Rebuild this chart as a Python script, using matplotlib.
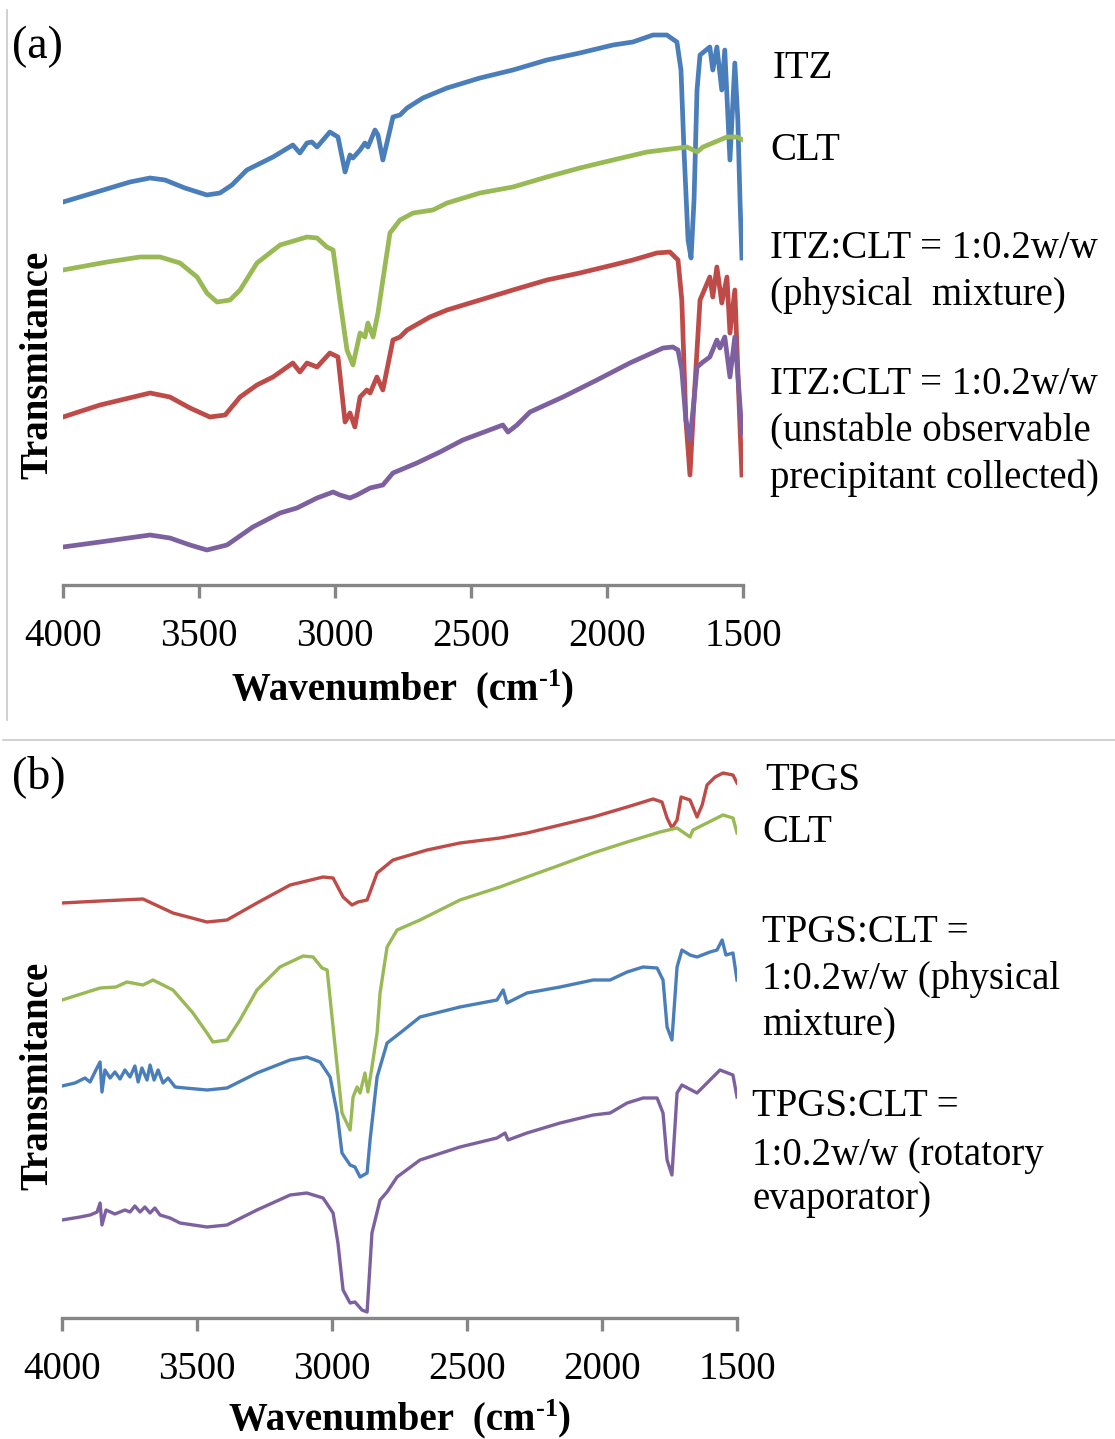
import matplotlib
matplotlib.use("Agg")
import matplotlib.pyplot as plt
from matplotlib.lines import Line2D

plt.rcParams['font.family'] = ['Liberation Serif', 'DejaVu Serif']

BLUE = '#4a7ebb'
GREEN = '#98b954'
RED = '#be4b48'
PURPLE = '#7d60a0'

# ---------------- panel (a): offset transmittance (arbitrary units) vs wavenumber ----------------
a_itz_wn = [4000, 3864, 3754, 3680, 3625, 3552, 3471, 3423, 3379, 3324, 3228, 3155, 3129, 3103,
            3085, 3066, 3019, 2989, 2963, 2945, 2934, 2908, 2890, 2879, 2853, 2842, 2824, 2798,
            2787, 2761, 2735, 2677, 2588, 2467, 2346, 2221, 2100, 1978, 1905, 1831, 1780, 1743,
            1728, 1717, 1702, 1691, 1680, 1669, 1658, 1622, 1611, 1596, 1578, 1567, 1548, 1530,
            1519, 1511, 1504]
a_itz_t = [3.83, 3.94, 4.03, 4.07, 4.05, 3.97, 3.90, 3.92, 4.00, 4.15, 4.28, 4.40, 4.32, 4.42,
           4.43, 4.38, 4.53, 4.48, 4.13, 4.30, 4.27, 4.35, 4.42, 4.38, 4.55, 4.50, 4.25, 4.55,
           4.68, 4.70, 4.77, 4.87, 4.97, 5.07, 5.15, 5.25, 5.32, 5.40, 5.43, 5.50, 5.50, 5.43,
           5.15, 4.35, 3.45, 3.27, 3.85, 4.95, 5.30, 5.38, 5.15, 5.38, 4.95, 5.35, 4.25, 5.22,
           4.65, 3.85, 3.27]

a_clt_wn = [4000, 3838, 3717, 3643, 3570, 3507, 3471, 3434, 3386, 3349, 3287, 3202, 3103, 3066,
            3030, 3007, 2982, 2956, 2934, 2908, 2890, 2879, 2860, 2842, 2824, 2798, 2761, 2713,
            2640, 2588, 2467, 2346, 2221, 2100, 1978, 1853, 1706, 1669, 1647, 1559, 1522, 1500]
a_clt_t = [3.15, 3.23, 3.28, 3.28, 3.22, 3.08, 2.92, 2.83, 2.85, 2.95, 3.22, 3.40, 3.48, 3.47,
           3.38, 3.35, 2.85, 2.35, 2.20, 2.52, 2.48, 2.62, 2.48, 2.72, 3.05, 3.52, 3.65, 3.72,
           3.75, 3.82, 3.92, 3.98, 4.08, 4.17, 4.25, 4.33, 4.38, 4.33, 4.38, 4.48, 4.48, 4.45]

a_pm_wn = [4000, 3864, 3680, 3607, 3533, 3460, 3404, 3349, 3287, 3228, 3155, 3129, 3103, 3066,
           3019, 2989, 2963, 2945, 2927, 2908, 2883, 2871, 2846, 2824, 2787, 2761, 2735, 2651,
           2588, 2467, 2346, 2221, 2100, 1978, 1905, 1817, 1769, 1739, 1725, 1710, 1695, 1680,
           1658, 1622, 1611, 1596, 1578, 1559, 1548, 1530, 1515, 1504]
a_pm_t = [1.68, 1.80, 1.92, 1.88, 1.77, 1.68, 1.70, 1.88, 2.00, 2.08, 2.22, 2.13, 2.22, 2.18,
          2.32, 2.28, 1.63, 1.72, 1.58, 1.88, 1.95, 1.92, 2.08, 1.95, 2.45, 2.48, 2.55, 2.68,
          2.75, 2.85, 2.95, 3.05, 3.12, 3.20, 3.25, 3.32, 3.33, 3.25, 2.85, 1.65, 1.10, 1.85,
          2.85, 3.08, 2.88, 3.18, 2.82, 3.08, 2.52, 2.95, 1.85, 1.10]

a_ppt_wn = [4000, 3864, 3680, 3607, 3533, 3471, 3397, 3302, 3202, 3140, 3066, 3007, 2982, 2945,
            2919, 2871, 2824, 2787, 2699, 2614, 2530, 2383, 2364, 2331, 2283, 2162, 2037, 1916,
            1794, 1758, 1739, 1725, 1710, 1695, 1680, 1669, 1647, 1622, 1596, 1585, 1567, 1548,
            1530, 1515, 1504]
a_ppt_t = [0.38, 0.43, 0.50, 0.47, 0.40, 0.35, 0.40, 0.58, 0.72, 0.77, 0.87, 0.93, 0.90, 0.87,
           0.90, 0.97, 1.00, 1.12, 1.22, 1.33, 1.45, 1.60, 1.53, 1.60, 1.73, 1.88, 2.05, 2.22,
           2.37, 2.38, 2.35, 2.15, 1.65, 1.45, 1.85, 2.18, 2.23, 2.28, 2.45, 2.37, 2.48, 2.08,
           2.48, 1.95, 1.52]

# ---------------- panel (b) ----------------
b_tpgs_wn = [4000, 3859, 3700, 3589, 3463, 3389, 3278, 3155, 3033, 2996, 2959, 2926, 2904, 2870,
             2833, 2774, 2648, 2526, 2378, 2278, 2155, 2033, 1907, 1811, 1778, 1759, 1741, 1722,
             1707, 1674, 1648, 1629, 1611, 1581, 1552, 1515, 1500]
b_tpgs_t = [4.15, 4.17, 4.19, 4.05, 3.96, 3.98, 4.15, 4.33, 4.41, 4.40, 4.21, 4.13, 4.16, 4.18,
            4.45, 4.58, 4.68, 4.75, 4.80, 4.85, 4.93, 5.01, 5.11, 5.19, 5.16, 5.00, 4.90, 4.98,
            5.21, 5.18, 5.01, 5.13, 5.33, 5.41, 5.45, 5.43, 5.35]

b_clt_wn = [4000, 3859, 3800, 3760, 3700, 3663, 3589, 3515, 3463, 3441, 3389, 3341, 3278, 3193,
            3107, 3070, 3037, 3018, 2996, 2963, 2933, 2922, 2907, 2896, 2878, 2867, 2852, 2833,
            2822, 2796, 2759, 2674, 2526, 2378, 2278, 2155, 2033, 1907, 1785, 1722, 1674, 1663,
            1552, 1515, 1500]
b_clt_t = [3.18, 3.30, 3.31, 3.36, 3.33, 3.38, 3.28, 3.05, 2.85, 2.76, 2.78, 2.98, 3.28, 3.51,
           3.62, 3.61, 3.50, 3.48, 2.91, 2.05, 1.88, 2.21, 2.31, 2.25, 2.45, 2.26, 2.51, 2.85,
           3.25, 3.71, 3.88, 3.98, 4.18, 4.31, 4.41, 4.53, 4.65, 4.76, 4.86, 4.90, 4.81, 4.88,
           5.03, 5.00, 4.85]

b_pm_wn = [4000, 3952, 3915, 3896, 3878, 3859, 3852, 3841, 3822, 3804, 3785, 3767, 3748, 3730,
           3718, 3704, 3685, 3674, 3659, 3644, 3626, 3607, 3581, 3544, 3463, 3389, 3278, 3155,
           3093, 3044, 3007, 2981, 2963, 2933, 2915, 2896, 2870, 2859, 2833, 2796, 2748, 2674,
           2526, 2389, 2366, 2352, 2278, 2155, 2033, 1970, 1907, 1848, 1796, 1774, 1759, 1741,
           1722, 1704, 1674, 1648, 1600, 1574, 1555, 1541, 1515, 1500]
b_pm_t = [2.32, 2.35, 2.40, 2.36, 2.46, 2.56, 2.26, 2.48, 2.40, 2.46, 2.39, 2.48, 2.41, 2.52,
          2.36, 2.50, 2.38, 2.53, 2.38, 2.48, 2.35, 2.40, 2.31, 2.30, 2.28, 2.30, 2.45, 2.58,
          2.61, 2.56, 2.41, 2.05, 1.65, 1.53, 1.51, 1.41, 1.45, 1.78, 2.41, 2.75, 2.85, 3.01,
          3.11, 3.18, 3.28, 3.15, 3.25, 3.31, 3.38, 3.38, 3.46, 3.51, 3.50, 3.38, 2.91, 2.78,
          3.51, 3.68, 3.63, 3.61, 3.66, 3.68, 3.78, 3.63, 3.65, 3.38]

b_rot_wn = [4000, 3933, 3896, 3870, 3859, 3852, 3837, 3804, 3767, 3748, 3730, 3711, 3693, 3674,
            3656, 3637, 3600, 3563, 3463, 3389, 3278, 3155, 3093, 3033, 2996, 2978, 2959, 2933,
            2915, 2889, 2870, 2852, 2822, 2796, 2759, 2674, 2526, 2389, 2359, 2348, 2278, 2155,
            2033, 1970, 1907, 1848, 1796, 1774, 1759, 1741, 1722, 1704, 1648, 1600, 1563, 1515, 1500]
b_rot_t = [0.98, 1.01, 1.03, 1.06, 1.15, 0.93, 1.08, 1.04, 1.08, 1.06, 1.12, 1.06, 1.11, 1.05,
           1.10, 1.03, 1.00, 0.95, 0.91, 0.93, 1.08, 1.23, 1.25, 1.20, 1.05, 0.75, 0.28, 0.15,
           0.16, 0.08, 0.06, 0.85, 1.18, 1.26, 1.41, 1.58, 1.71, 1.80, 1.85, 1.78, 1.85, 1.95,
           2.03, 2.05, 2.15, 2.20, 2.20, 2.05, 1.58, 1.43, 2.25, 2.33, 2.25, 2.38, 2.48, 2.43, 2.21]

xticks = [4000, 3500, 3000, 2500, 2000, 1500]

W, H = 1115, 1439
fig = plt.figure(figsize=(W / 100, H / 100), dpi=100)


def px(x, y):
    return x / W, 1 - y / H


def style_axis(ax, top):
    ax.set_xlim(4000, 1500)
    ax.set_ylim(0, top)
    ax.set_xticks(xticks)
    ax.set_yticks([])
    for s in ['top', 'left', 'right']:
        ax.spines[s].set_visible(False)
    ax.spines['bottom'].set_color('#868686')
    ax.spines['bottom'].set_linewidth(2.4)
    ax.tick_params(axis='x', direction='out', length=9.5, width=2.4, color='#868686',
                   labelsize=28, pad=14)
    ax.patch.set_alpha(0)


# panel (a)
ax1 = fig.add_axes([63 / W, 1 - 585 / H, 680 / W, 565 / H])
ax1.plot(a_itz_wn, a_itz_t, color=BLUE, lw=3.4, solid_joinstyle='round')
ax1.plot(a_clt_wn, a_clt_t, color=GREEN, lw=3.4, solid_joinstyle='round')
ax1.plot(a_pm_wn, a_pm_t, color=RED, lw=3.4, solid_joinstyle='round')
ax1.plot(a_ppt_wn, a_ppt_t, color=PURPLE, lw=3.4, solid_joinstyle='round')
style_axis(ax1, 5.65)

# panel (b)
ax2 = fig.add_axes([62 / W, 1 - 1318 / H, 675 / W, 568 / H])
ax2.plot(b_tpgs_wn, b_tpgs_t, color=RED, lw=2.4, solid_joinstyle='round')
ax2.plot(b_clt_wn, b_clt_t, color=GREEN, lw=2.4, solid_joinstyle='round')
ax2.plot(b_pm_wn, b_pm_t, color=BLUE, lw=2.4, solid_joinstyle='round')
ax2.plot(b_rot_wn, b_rot_t, color=PURPLE, lw=2.4, solid_joinstyle='round')
style_axis(ax2, 5.68)

renderer = fig.canvas.get_renderer()


def wavenumber_label(xc, ybase):
    # "Wavenumber (cm" + superscript "-1" + ")" laid out piece by piece
    parts = [('Wavenumber  (cm', 28, 0), ('-1', 19, 13), (')', 28, 0)]
    texts = []
    for s, fs, rise in parts:
        t = fig.text(0, 0, s, fontsize=fs, fontweight='bold', va='baseline', ha='left')
        texts.append((t, rise))
    widths = [t.get_window_extent(renderer).width for t, _ in texts]
    x = xc - sum(widths) / 2
    for (t, rise), w in zip(texts, widths):
        t.set_position(px(x, ybase - rise))
        x += w


wavenumber_label(403, 699)
wavenumber_label(400, 1429)

fig.text(*px(38, 365), 'Transmitance', rotation=90, ha='center', va='center',
         fontsize=28, fontweight='bold')
fig.text(*px(38, 1076), 'Transmitance', rotation=90, ha='center', va='center',
         fontsize=28, fontweight='bold')

fig.text(*px(12, 47), '(a)', ha='left', va='center', fontsize=33)
fig.text(*px(12, 777), '(b)', ha='left', va='center', fontsize=33)

labels_a = [(773, 68, 'ITZ'), (770, 150, 'CLT'),
            (770, 248, 'ITZ:CLT = 1:0.2w/w'), (770, 295, '(physical  mixture)'),
            (770, 385, 'ITZ:CLT = 1:0.2w/w'), (770, 432, '(unstable observable'),
            (770, 478, 'precipitant collected)')]
labels_b = [(765, 781, 'TPGS'), (762, 833, 'CLT'),
            (762, 933, 'TPGS:CLT ='), (762, 980, '1:0.2w/w (physical'), (762, 1026, 'mixture)'),
            (752, 1107, 'TPGS:CLT ='), (752, 1155, '1:0.2w/w (rotatory'), (752, 1200, 'evaporator)')]
for x, y, s in labels_a + labels_b:
    fig.text(*px(x, y), s, ha='left', va='center', fontsize=28)

# thin gray frame lines
fig.add_artist(Line2D([7 / W, 7 / W], [1 - 10 / H, 1 - 720 / H], transform=fig.transFigure,
                      color='#c8c8c8', lw=1.2))
fig.add_artist(Line2D([3 / W, 1], [1 - 740 / H, 1 - 740 / H], transform=fig.transFigure,
                      color='#c8c8c8', lw=1.2))

fig.savefig('out.png', dpi=100, facecolor='white')
